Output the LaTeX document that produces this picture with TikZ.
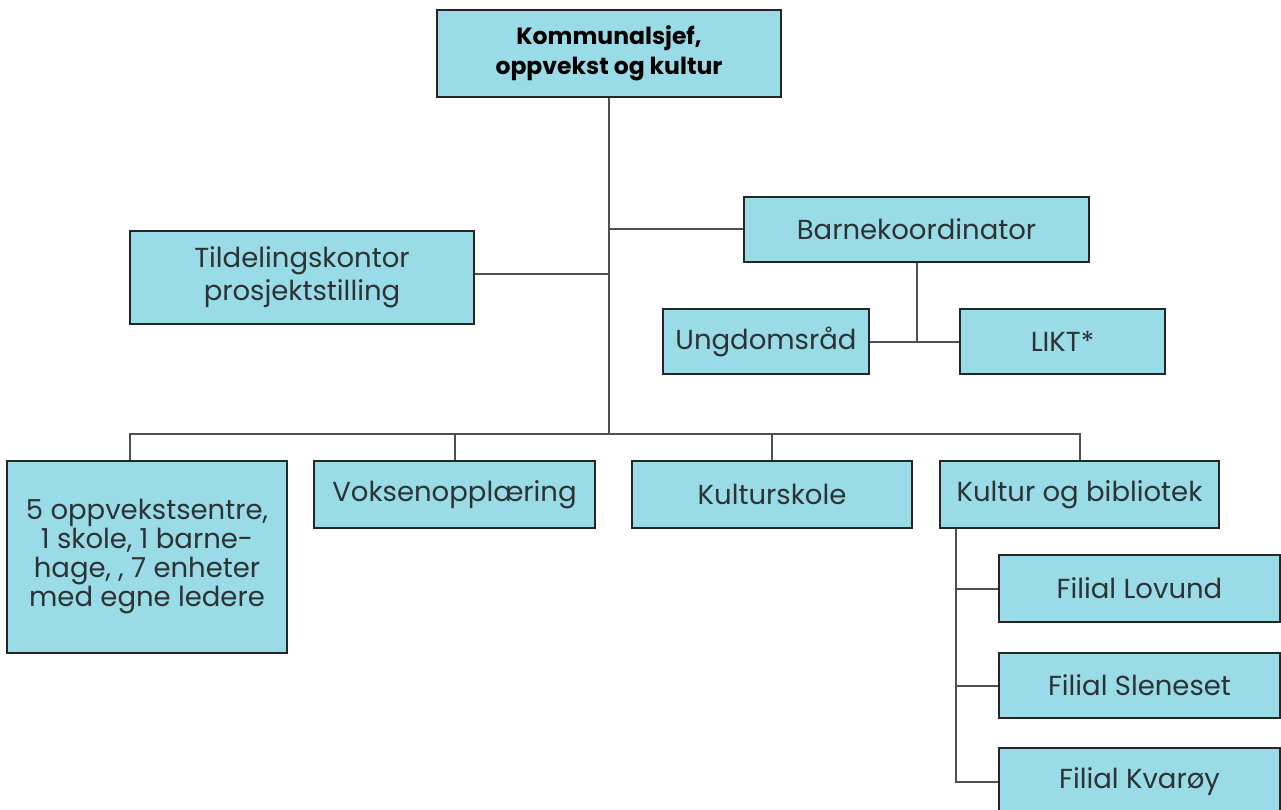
\documentclass[tikz,border=0pt]{standalone}
\usepackage{fontspec}
\setmainfont{Poppins}
\usetikzlibrary{positioning}
\definecolor{boxfill}{RGB}{153,219,230}
\definecolor{boxtext}{RGB}{45,50,52}
\definecolor{linkgray}{RGB}{80,80,80}

\begin{document}
\begin{tikzpicture}[x=1pt,y=-1pt,font=\fontsize{27.5}{29}\selectfont,
  unit/.style={draw=black!85,fill=boxfill,line width=1.5pt,text=boxtext,align=center,inner sep=0pt},
  link/.style={draw=linkgray,line width=2pt}]
\useasboundingbox (0,0) rectangle (1281,810);
% leader
\node[unit,minimum width=344,minimum height=87,text=black,font=\fontsize{23.5}{30}\selectfont\bfseries] (chief) at (609,53.5) {Kommunalsjef,\\oppvekst og kultur};
% staff
\node[unit,minimum width=345,minimum height=65] (barne) at (916.5,229.5) {Barnekoordinator};
\node[unit,minimum width=344,minimum height=93,font=\fontsize{27.5}{33}\selectfont] (tildel) at (302,277.5) {Tildelingskontor\\prosjektstilling};
\node[unit,minimum width=206,minimum height=65] (ungdom) at (766,341.5) {Ungdomsråd};
\node[unit,minimum width=205,minimum height=65] (likt) at (1062.5,341.5) {LIKT*};
% units
\node[unit,minimum width=280,minimum height=192] (oppv) at (147,557) {5 oppvekstsentre,\\1 skole, 1 barne-\\hage, , 7 enheter\\med egne ledere};
\node[unit,minimum width=281,minimum height=67] (voksen) at (454.5,494.5) {Voksenopplæring};
\node[unit,minimum width=280,minimum height=67] (kskole) at (772,494.5) {Kulturskole};
\node[unit,minimum width=279,minimum height=67] (kultur) at (1079.5,494.5) {Kultur og bibliotek};
% branches
\node[unit,minimum width=281,minimum height=67] (lovund) at (1139.5,588.5) {Filial Lovund};
\node[unit,minimum width=281,minimum height=65] (slene) at (1139.5,685.5) {Filial Sleneset};
\node[unit,minimum width=281,minimum height=68] (kvaroy) at (1139.5,782) {Filial Kvarøy};
\coordinate (bus) at (609,434);
\coordinate (spine) at (956,0);
% lines
\draw[link] (chief.south) -- (bus);
\draw[link] (barne.west) -- (barne.west -| chief.south);
\draw[link] (tildel.east) ++(0,-4) -- +(135,0);
\draw[link] (barne.south) -- (barne.south |- ungdom.east);
\draw[link] (ungdom.east) -- (likt.west);
\draw[link] ([xshift=-17]oppv.north) |- (bus) -| (kultur.north);
\draw[link] (voksen.north) -- (voksen.north |- bus);
\draw[link] (kskole.north) -- (kskole.north |- bus);
\draw[link] (kultur.south -| spine) |- (kvaroy.west);
\draw[link] (lovund.west) -- (lovund.west -| spine);
\draw[link] (slene.west) -- (slene.west -| spine);
\end{tikzpicture}
\end{document}
